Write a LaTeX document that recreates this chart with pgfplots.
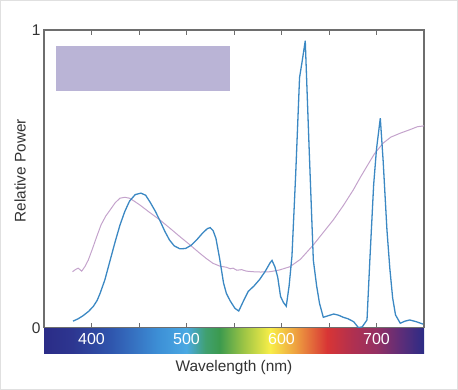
\documentclass[border=0pt]{standalone}
\usepackage{pgfplots}
\pgfplotsset{compat=1.18}
\usepackage{fontspec}
\setmainfont{Liberation Sans}
\definecolor{bluel}{HTML}{3B88C3}
\definecolor{purpl}{HTML}{C4A3CC}
\definecolor{boxc}{HTML}{BAB4D6}
\definecolor{axg}{HTML}{6E6E6E}
\definecolor{txt}{HTML}{333333}
\definecolor{s0}{HTML}{2B2C87}
\definecolor{s1}{HTML}{2D3690}
\definecolor{s2}{HTML}{2F55AD}
\definecolor{s3}{HTML}{3D8FD6}
\definecolor{s4}{HTML}{4AA9E3}
\definecolor{s5}{HTML}{40A070}
\definecolor{s6}{HTML}{3C9A4E}
\definecolor{s7}{HTML}{9CC445}
\definecolor{s8}{HTML}{F8EE48}
\definecolor{s9}{HTML}{EEA040}
\definecolor{s10}{HTML}{D83535}
\definecolor{s11}{HTML}{B03050}
\definecolor{s12}{HTML}{943063}
\definecolor{s13}{HTML}{5E2D78}
\definecolor{s14}{HTML}{2C2C86}
\pgfdeclarehorizontalshading{spectrum}{100bp}{color(0bp)=(s0); color(25bp)=(s0); color(28.75bp)=(s1); color(33.75bp)=(s2); color(40bp)=(s3); color(43.75bp)=(s4); color(46.25bp)=(s5); color(48.1bp)=(s6); color(51.25bp)=(s7); color(54.75bp)=(s8); color(58.1bp)=(s9); color(62.25bp)=(s10); color(65.6bp)=(s11); color(68.75bp)=(s12); color(71.9bp)=(s13); color(75bp)=(s14); color(100bp)=(s14)}
\begin{document}
\begin{tikzpicture}
\path[use as bounding box] (0,0) rectangle (458pt,390pt);
\draw[black!12, line width=1pt] (0.5pt,0.5pt) rectangle (457.5pt,389.5pt);
\shade[shading=spectrum] (44pt,36pt) rectangle (424pt,62.3pt);
\begin{axis}[
  at={(44pt,62.3pt)}, anchor=south west,
  scale only axis, width=380pt, height=297.7pt,
  xmin=350, xmax=750, ymin=0, ymax=1,
  axis line style={axg, line width=1.3pt},
  xtick={400,450,500,550,600,650,700},
  xticklabels={400,,500,,600,,700},
  xtick pos=both, tick align=inside,
  major tick length=5pt,
  tick style={axg, line width=0.8pt},
  xticklabel style={white, anchor=center, yshift=-10.8pt, font=\fontsize{16}{16}\selectfont},
  ytick={0,1}, yticklabels={0,1},
  ytick style={draw=none},
  yticklabel style={txt, font=\fontsize{15.5}{15.5}\selectfont},
  /pgf/number format/assume math mode=true,
  xlabel={Wavelength (nm)},
  xlabel style={txt, at={(axis description cs:0.5,-0.135)}, anchor=center, font=\fontsize{15.4}{15.4}\selectfont},
  ylabel={Relative Power},
  ylabel style={txt, at={(axis description cs:-0.063,0.527)}, anchor=center, font=\fontsize{15.4}{15.4}\selectfont},
]
\addplot[draw=none, fill=boxc] coordinates {(362.3,0.796) (545.8,0.796) (545.8,0.946) (362.3,0.946)} --cycle;
\addplot[purpl, line width=1pt] coordinates {
(380,0.188) (383,0.195) (386,0.200) (389.7,0.190) (393,0.205) (396.6,0.227)
(401,0.265) (405.5,0.306) (410,0.345) (415,0.375) (419.5,0.395) (425,0.420)
(430,0.435) (435,0.438) (440,0.435) (445,0.425) (451,0.412) (460,0.390)
(472,0.362) (483,0.333) (493,0.306) (503,0.280) (514,0.250) (521,0.232)
(528,0.216) (535,0.207) (542,0.203) (546,0.198) (549,0.200) (553,0.193)
(558,0.195) (563,0.190) (570,0.188) (578,0.187) (588,0.188) (598,0.194)
(609,0.205) (620,0.230) (633.5,0.278) (644,0.320) (654.5,0.362) (665,0.410)
(675.6,0.463) (683,0.505) (689.7,0.541) (698,0.585) (707,0.620) (715,0.640)
(724.7,0.653) (735,0.665) (743,0.675) (750,0.678)
};
\addplot[bluel, line width=1.3pt] coordinates {
(380.5,0.022) (386,0.030) (391,0.040) (397,0.055) (402,0.072) (406,0.092)
(409,0.115) (414,0.160) (419.5,0.225) (425,0.290) (430,0.345) (435,0.390)
(440,0.425) (446,0.447) (452,0.452) (457,0.445) (462,0.420) (467,0.392)
(472,0.360) (477,0.325) (482,0.295) (487,0.275) (493,0.265) (499,0.266)
(505,0.277) (511,0.296) (517,0.318) (522,0.333) (525,0.336) (528,0.326)
(531,0.300) (535,0.230) (539,0.150) (542,0.115) (546,0.090) (551,0.065)
(555,0.056) (560,0.090) (565,0.122) (571,0.140) (577,0.162) (583,0.190)
(588,0.218) (590,0.226) (593,0.205) (596,0.170) (599,0.105) (602,0.085)
(605,0.072) (608,0.140) (611,0.240) (615,0.520) (619,0.840) (622,0.900)
(625,0.964) (629,0.610) (633.5,0.227) (637,0.140) (640,0.082) (644,0.035)
(649,0.040) (655,0.046) (660,0.042) (665,0.035) (670,0.030) (676,0.020)
(681,0.000) (685,0.003) (690,0.026) (693,0.227) (697,0.480) (700,0.600)
(704,0.704) (707,0.560) (711,0.328) (714,0.200) (717,0.100) (720,0.043)
(725,0.015) (730,0.022) (735,0.026) (742,0.020) (749,0.012)
};
\end{axis}
\end{tikzpicture}
\end{document}
